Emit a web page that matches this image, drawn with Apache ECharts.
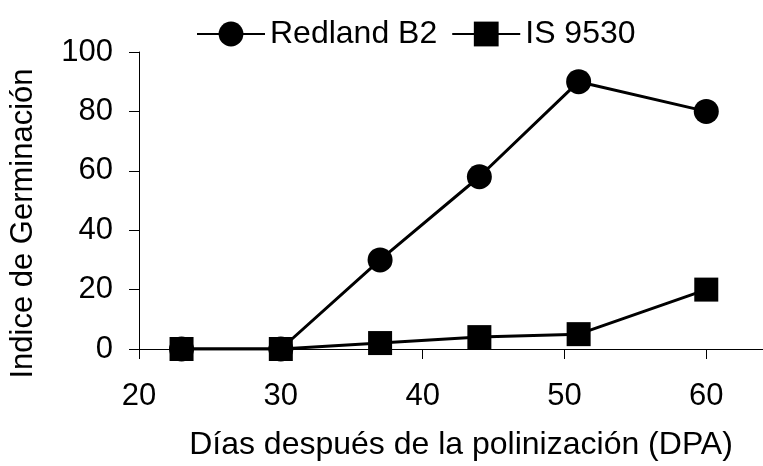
<!DOCTYPE html>
<html>
<head>
<meta charset="utf-8">
<script src="https://cdn.jsdelivr.net/npm/echarts@6/dist/echarts.min.js"></script>
<style>html,body{margin:0;padding:0;background:#fff}#c{width:763px;height:466px}</style>
</head>
<body>
<div id="c"></div>
<script>
const days = [23, 30, 37, 44, 51, 60];
const redland = [0, 0, 30, 58, 90, 80];
const is9530 = [0, 0, 2, 4, 5, 20];
const xTicks = [20, 30, 40, 50, 60];
const seriesNames = ['Redland B2', 'IS 9530'];
const xTitle = 'Días después de la polinización (DPA)';
const yTitle = 'Indice de Germinación';

const font = '"Liberation Sans", Arial, sans-serif';
const chart = echarts.init(document.getElementById('c'), null, {renderer: 'canvas'});
const pairs = (xs, ys) => xs.map((x, i) => [x, ys[i]]);

chart.setOption({
  animation: false,
  backgroundColor: '#fff',
  textStyle: {fontFamily: font, color: '#000'},
  legend: {
    left: 191, top: 13,
    itemWidth: 68, itemHeight: 31, itemGap: 14,
    textStyle: {fontFamily: font, fontSize: 32, color: '#000'},
    lineStyle: {width: 2},
    data: seriesNames
  },
  grid: {left: 139, right: 0, top: 52, bottom: 115, containLabel: false},
  xAxis: {
    type: 'value', min: 20, max: 64, interval: 10,
    name: xTitle, nameLocation: 'middle', nameGap: 80,
    nameTextStyle: {fontFamily: font, fontSize: 32, color: '#000', padding: [0, 0, 0, 20]},
    axisLine: {show: true, onZero: false, lineStyle: {color: '#000', width: 1}},
    axisTick: {show: true, inside: false, length: 10, lineStyle: {color: '#000'}, customValues: xTicks},
    axisLabel: {fontFamily: font, fontSize: 31, color: '#000', margin: 32, customValues: xTicks},
    splitLine: {show: false}
  },
  yAxis: {
    type: 'value', min: 0, max: 100, interval: 20,
    name: yTitle, nameLocation: 'middle', nameGap: 100, nameRotate: 90,
    nameTextStyle: {fontFamily: font, fontSize: 31, color: '#000', padding: [0, 46, 0, 0]},
    axisLine: {show: true, onZero: false, lineStyle: {color: '#000', width: 1}},
    axisTick: {show: true, inside: false, length: 10, lineStyle: {color: '#000'}},
    axisLabel: {fontFamily: font, fontSize: 31, color: '#000', margin: 26},
    splitLine: {show: false}
  },
  series: [
    {
      name: seriesNames[0], type: 'line', data: pairs(days, redland),
      symbol: 'circle', symbolSize: 25,
      lineStyle: {color: '#000', width: 3},
      itemStyle: {color: '#000'}, z: 2
    },
    {
      name: seriesNames[1], type: 'line', data: pairs(days, is9530),
      symbol: 'rect', symbolSize: 24,
      lineStyle: {color: '#000', width: 3},
      itemStyle: {color: '#000'}, z: 3
    }
  ]
});
</script>
</body>
</html>
